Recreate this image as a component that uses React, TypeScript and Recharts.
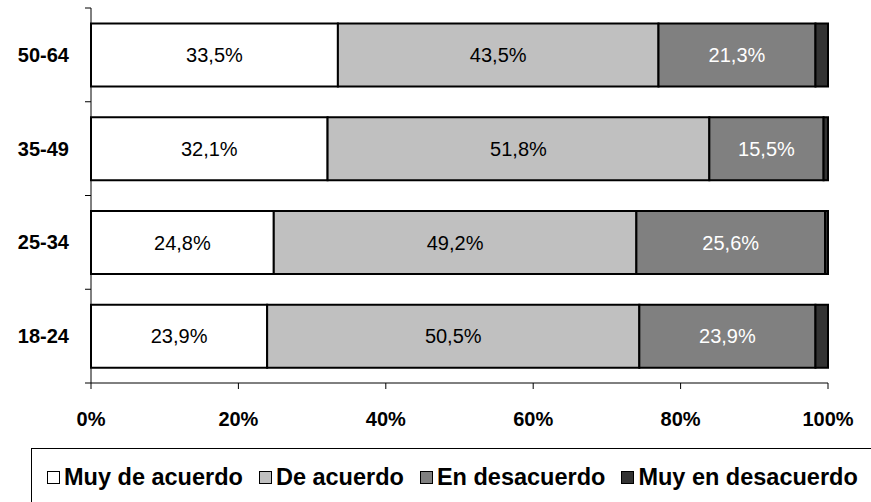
import { Bar, BarChart, LabelList, XAxis, YAxis } from "recharts";

const AGE_GROUPS = ["50-64", "35-49", "25-34", "18-24"];
const MUY_DE_ACUERDO = [33.5, 32.1, 24.8, 23.9];
const DE_ACUERDO = [43.5, 51.8, 49.2, 50.5];
const EN_DESACUERDO = [21.3, 15.5, 25.6, 23.9];
const MUY_EN_DESACUERDO = [1.7, 0.6, 0.4, 1.7];
const X_TICKS = [0, 20, 40, 60, 80, 100];

const SERIES = [
  { key: "muyAcuerdo", name: "Muy de acuerdo", color: "#FFFFFF", labelColor: "#000000", showLabel: true },
  { key: "acuerdo", name: "De acuerdo", color: "#C0C0C0", labelColor: "#000000", showLabel: true },
  { key: "desacuerdo", name: "En desacuerdo", color: "#808080", labelColor: "#FFFFFF", showLabel: true },
  { key: "muyDesacuerdo", name: "Muy en desacuerdo", color: "#333333", labelColor: "#FFFFFF", showLabel: false },
];

const data = AGE_GROUPS.map((age, i) => ({
  age,
  muyAcuerdo: MUY_DE_ACUERDO[i],
  acuerdo: DE_ACUERDO[i],
  desacuerdo: EN_DESACUERDO[i],
  muyDesacuerdo: MUY_EN_DESACUERDO[i],
}));

const FONT = "'Liberation Sans', Arial, Helvetica, sans-serif";
const fmt = (v: any) => `${Number(v).toFixed(1).replace(".", ",")}%`;

const TICK_SIZE = 6;
const TICK_MARGIN = 16;

// Category label plus short tick marks on the band edges (Excel style)
function AgeTick(props: any) {
  const { x, y, payload, index, visibleTicksCount } = props;
  const half = payload?.offset ?? 0;
  const axisX = x + TICK_SIZE + TICK_MARGIN;
  const last = index === (visibleTicksCount ?? AGE_GROUPS.length) - 1;
  return (
    <g>
      <line x1={axisX - TICK_SIZE} x2={axisX} y1={y - half} y2={y - half} stroke="#000" />
      {last && <line x1={axisX - TICK_SIZE} x2={axisX} y1={y + half} y2={y + half} stroke="#000" />}
      <text
        x={x}
        y={y}
        textAnchor="end"
        dominantBaseline="central"
        fontSize={20}
        fontWeight={700}
        fill="#000"
        fontFamily={FONT}
      >
        {payload.value}
      </text>
    </g>
  );
}

export default function App() {
  return (
    <div
      style={{
        position: "absolute",
        left: 0,
        top: 0,
        width: 871,
        height: 502,
        overflow: "hidden",
        background: "#fff",
        fontFamily: FONT,
      }}
    >
      <BarChart
        width={871}
        height={502}
        data={data}
        layout="vertical"
        margin={{ top: 8, right: 43, bottom: 89, left: 11 }}
        barCategoryGap="16.5%"
      >
        <XAxis
          type="number"
          domain={[0, 100]}
          ticks={X_TICKS}
          tickFormatter={(v) => `${v}%`}
          height={30}
          stroke="#000"
          tickSize={6}
          tickMargin={23}
          tick={{ fontSize: 20, fontWeight: 700, fill: "#000", fontFamily: FONT }}
        />
        <YAxis
          type="category"
          dataKey="age"
          width={80}
          stroke="#000"
          tickLine={false}
          tickSize={TICK_SIZE}
          tickMargin={TICK_MARGIN}
          tick={<AgeTick />}
          interval={0}
        />
        {SERIES.map((s) => (
          <Bar
            key={s.key}
            dataKey={s.key}
            name={s.name}
            stackId="a"
            fill={s.color}
            stroke="#000"
            strokeWidth={2}
            isAnimationActive={false}
          >
            {s.showLabel && (
              <LabelList
                dataKey={s.key}
                position="center"
                formatter={fmt}
                fill={s.labelColor}
                style={{ fontSize: 20, fontFamily: FONT }}
              />
            )}
          </Bar>
        ))}
      </BarChart>
      <div
        style={{
          position: "absolute",
          left: 31,
          top: 448,
          width: 900,
          height: 80,
          border: "1px solid #000",
          boxSizing: "border-box",
        }}
      >
        <div
          style={{
            position: "absolute",
            left: 15,
            top: 14,
            display: "flex",
            alignItems: "center",
            fontSize: 23.5,
            fontWeight: 700,
            whiteSpace: "nowrap",
            lineHeight: "28px",
          }}
        >
          {SERIES.map((s) => (
            <div key={s.key} style={{ display: "flex", alignItems: "center", marginRight: 16 }}>
              <span
                style={{
                  display: "inline-block",
                  width: 11,
                  height: 11,
                  background: s.color,
                  border: "1.5px solid #000",
                  marginRight: 4,
                }}
              />
              <span>{s.name}</span>
            </div>
          ))}
        </div>
      </div>
    </div>
  );
}
